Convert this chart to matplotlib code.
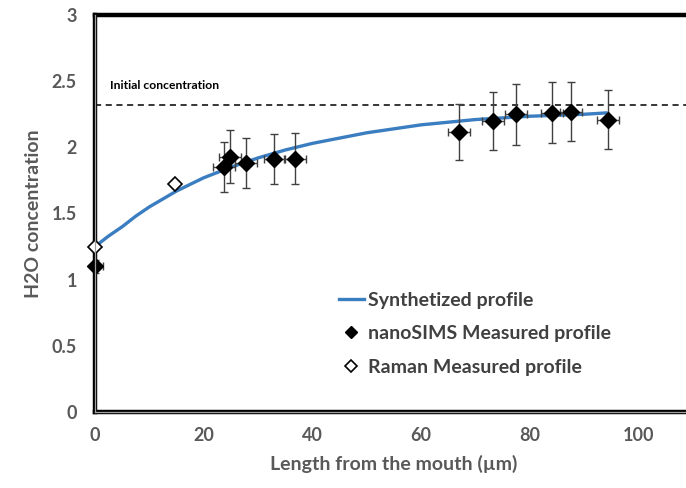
import numpy as np
import matplotlib
matplotlib.use('Agg')
import matplotlib.pyplot as plt
from matplotlib.lines import Line2D

plt.rcParams['font.family'] = ['Lato', 'DejaVu Sans']

# synthetized profile
curve_x = [0, 2.5, 5, 7.5, 10, 12.5, 15, 20, 25, 30, 35, 40, 50, 60, 70, 80, 90, 94]
curve_y = [1.25, 1.33, 1.40, 1.48, 1.55, 1.61, 1.67, 1.77, 1.85, 1.92, 1.98, 2.03, 2.11, 2.17, 2.21, 2.235, 2.25, 2.26]

# nanoSIMS measured profile
sims_x = [0, 23.7, 24.8, 27.8, 33.0, 36.8, 67.0, 73.2, 77.5, 84.0, 87.6, 94.3]
sims_y = [1.10, 1.85, 1.93, 1.88, 1.91, 1.915, 2.115, 2.20, 2.25, 2.26, 2.27, 2.21]
sims_yerr = [0.05, 0.19, 0.20, 0.19, 0.19, 0.19, 0.21, 0.22, 0.23, 0.23, 0.22, 0.22]
sims_xerr = [1.5, 2, 2, 2, 2, 2, 2, 2, 2, 2, 2, 2]

# Raman measured profile
raman_x = [0, 14.8]
raman_y = [1.25, 1.72]

initial_conc = 2.32

x_ticks = [0, 20, 40, 60, 80, 100]
y_ticks = [0, 0.5, 1, 1.5, 2, 2.5, 3]
y_ticklabels = ['0', '0.5', '1', '1.5', '2', '2.5', '3']

fig = plt.figure(figsize=(6.86, 4.88), dpi=100)
ax = fig.add_axes([95/686, 76/488, 598/686, 397/488])

ax.axhline(initial_conc, color='black', lw=1.1, ls=(0, (4, 3)), zorder=1)
ax.text(2.8, 2.47, 'Initial concentration', fontsize=8.7, fontweight='bold', va='center', ha='left')

line, = ax.plot(curve_x, curve_y, color='#3A7DC0', lw=2.4, zorder=2, label='Synthetized profile')

ax.errorbar(sims_x, sims_y, yerr=sims_yerr, xerr=sims_xerr, fmt='none', ecolor='#404040',
            elinewidth=1, capsize=3, capthick=1, zorder=3)
ax.plot(sims_x, sims_y, 'D', color='black', ms=8, zorder=4, clip_on=False)
ax.plot(raman_x, raman_y, 'D', mfc='white', mec='black', mew=1.2, ms=7.5, zorder=5, clip_on=False)

ax.set_xlim(0, 110)
ax.set_ylim(0, 3)
ax.set_xticks(x_ticks)
ax.set_yticks(y_ticks)
ax.set_yticklabels(y_ticklabels)
ax.tick_params(length=0, labelsize=13, labelcolor='#595959')
ax.tick_params(axis='x', pad=11)
ax.tick_params(axis='y', pad=13)
for lab in ax.get_xticklabels() + ax.get_yticklabels():
    lab.set_fontweight('bold')

ax.set_xlabel('Length from the mouth (\u00b5m)', fontsize=14, fontweight='bold', color='#595959', labelpad=8)
ax.set_ylabel('H2O concentration', fontsize=14, fontweight='bold', color='#595959', labelpad=7)

for s in ax.spines.values():
    s.set_linewidth(3.2)
    s.set_color('black')
# inner grey stroke to give the double border look
for xs, ys in [([0, 0], [0, 1]), ([0, 1], [0, 0])]:
    ax.plot(xs, ys, transform=ax.transAxes, color='#a0a0a0', lw=0.9, clip_on=False, zorder=6)

handles = [
    Line2D([], [], color='#3A7DC0', lw=2.4),
    Line2D([], [], ls='none', marker='D', color='black', ms=6.5),
    Line2D([], [], ls='none', marker='D', mfc='white', mec='black', mew=1.2, ms=6.5),
]
labels = ['Synthetized profile', 'nanoSIMS Measured profile', 'Raman Measured profile']
leg = ax.legend(handles, labels, loc='upper left', bbox_to_anchor=(329/686, 1 - 282/488),
                bbox_transform=fig.transFigure, frameon=False, fontsize=14,
                handlelength=1.3, handletextpad=0.2, labelspacing=0.85, borderpad=0)
for t in leg.get_texts():
    t.set_color('#404040')
    t.set_fontweight('bold')

fig.savefig('out.png', dpi=100)
